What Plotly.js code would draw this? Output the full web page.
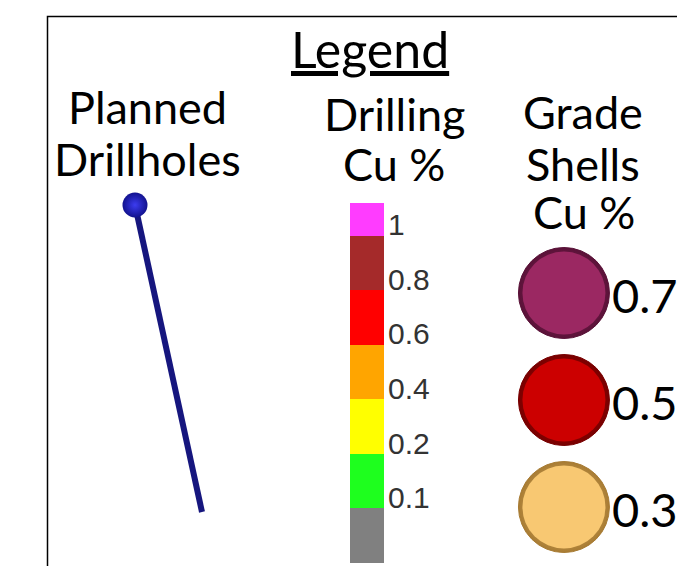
<!DOCTYPE html>
<html><head><meta charset="utf-8">
<script src="https://cdn.plot.ly/plotly-3.0.1.min.js"></script>
<style>html,body{margin:0;padding:0;background:#fff;}#chart{width:677px;height:566px;}</style>
</head><body><div id="chart"></div>
<script>
// Drilling Cu % colour bins (bottom to top)
const drillBinIndex = [0, 1, 2, 3, 4, 5, 6];
const drillBinColors = ['#808080', '#1eff1e', '#ffff00', '#ffa500', '#ff0000', '#a52a2a', '#ff3cff'];
const drillTickLabels = ['0.1', '0.2', '0.4', '0.6', '0.8', '1'];
const drillTickBins = [1, 2, 3, 4, 5, 6];

// Grade shells Cu %
const shellLabels = ['0.7', '0.5', '0.3'];
const shellColors = ['#9b2862', '#cc0000', '#f8c872'];
const shellEdge = ['#5a1238', '#780000', '#a87c34'];

// Planned drillhole trace (collar -> toe)
const holeX = [137, 202];
const holeY = [214, 512];
const collarX = [135];
const collarY = [205];

const font = 'Lato, "Open Sans", sans-serif';
const shellIdx = shellLabels.map((_, i) => i);

const traces = [
  {type:'scatter', mode:'lines', x:holeX, y:holeY, xaxis:'x', yaxis:'y',
   line:{color:'#16167e', width:6}, hoverinfo:'skip'},
  {type:'scatter', mode:'markers', x:collarX, y:collarY, xaxis:'x', yaxis:'y',
   marker:{size:25, color:'#12128e', gradient:{type:'radial', color:'#3c3cf0'}, line:{width:0}}, hoverinfo:'skip'},
  {type:'bar', x:drillBinIndex.map(()=>0), y:drillBinIndex.map(()=>1), base:drillBinIndex,
   xaxis:'x2', yaxis:'y2', width:1, marker:{color:drillBinColors, line:{width:0}}, hoverinfo:'skip'},
  {type:'scatter', mode:'markers', x:shellIdx.map(()=>0.5), y:shellIdx,
   xaxis:'x3', yaxis:'y3', cliponaxis:false,
   marker:{size:91, color:shellEdge, gradient:{type:'radial', color:shellColors}, line:{width:1, color:shellEdge}},
   hoverinfo:'skip'},
  {type:'scatter', mode:'markers', x:shellIdx.map(()=>0.5), y:shellIdx,
   xaxis:'x3', yaxis:'y3', cliponaxis:false,
   marker:{size:83, color:shellColors, line:{width:0}}, hoverinfo:'skip'}
];

const hidden = {visible:false, fixedrange:true};
const head = (text, x, y, size) => ({text, x:x/677, y:(566-y)/566, font:{family:font, size:size||45, color:'#000'}});
const annotations = [
  head('<u>Legend</u>', 370, 49, 50),
  head('Planned', 147.5, 107),
  head('Drillholes', 147.5, 159),
  head('Drilling', 394, 114),
  head('Cu %', 393.5, 164),
  head('Grade', 583, 112),
  head('Shells', 583, 164),
  head('Cu %', 584, 212)
].map(a=>Object.assign({xref:'paper', yref:'paper', showarrow:false, xanchor:'center', yanchor:'middle'}, a));
shellLabels.forEach((t, i) => annotations.push({
  text:t, xref:'x3', yref:'y3', x:0.5, y:i, xanchor:'left', yanchor:'middle', xshift:46, yshift:-2,
  showarrow:false, font:{family:font, size:47, color:'#000'}
}));

const layout = {
  width:677, height:566, margin:{l:0,r:0,t:0,b:0}, showlegend:false,
  paper_bgcolor:'#fff', plot_bgcolor:'rgba(0,0,0,0)', bargap:0,
  xaxis:Object.assign({range:[0,677], domain:[0,1]}, hidden),
  yaxis:Object.assign({range:[566,0], domain:[0,1]}, hidden),
  xaxis2:{domain:[350/677, 384/677], range:[-0.5,0.5], visible:false, fixedrange:true, anchor:'y2'},
  yaxis2:{domain:[(566-563)/566, (566-203)/566], range:[0,6.6], anchor:'x2', side:'right',
    showgrid:false, zeroline:false, showline:false, ticks:'', tickvals:drillTickBins.map(v=>v+0.2),
    ticktext:drillTickLabels, tickfont:{family:'"Liberation Sans", Arial, sans-serif', size:30, color:'#333'},
    ticklabelstandoff:3, fixedrange:true},
  xaxis3:{domain:[0.78,0.886], range:[0,1], visible:false, fixedrange:true, anchor:'y3'},
  yaxis3:{domain:[(566-560.5)/566, (566-239.5)/566], range:[2.5,-0.5], visible:false, fixedrange:true, anchor:'x3'},
  shapes:[{type:'rect', xref:'paper', yref:'paper', x0:47.5/677, x1:1.05, y0:-0.05, y1:(566-16.5)/566,
    line:{color:'#000', width:1.5}, fillcolor:'rgba(0,0,0,0)', layer:'below'}],
  annotations
};
Plotly.newPlot('chart', traces, layout, {staticPlot:true, displayModeBar:false});
</script></body></html>
